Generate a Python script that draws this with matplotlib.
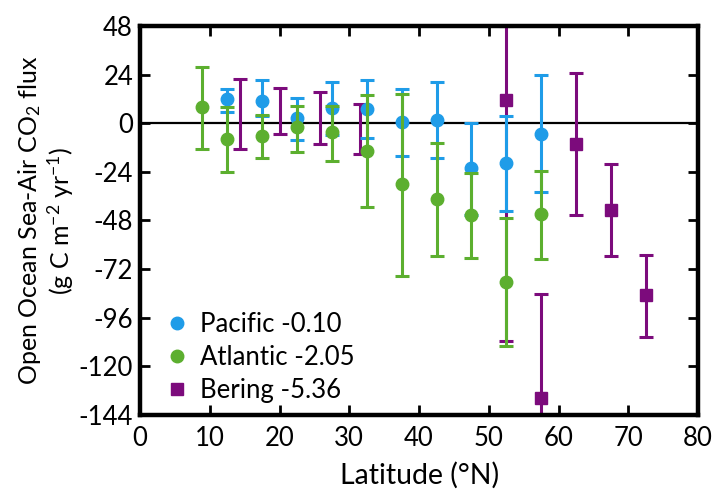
import matplotlib
matplotlib.use("Agg")
import matplotlib.pyplot as plt
import numpy as np
from matplotlib.lines import Line2D

plt.rcParams['font.family'] = ['Lato', 'DejaVu Sans']
plt.rcParams['mathtext.fontset'] = 'custom'
plt.rcParams['mathtext.rm'] = 'Lato'
plt.rcParams['mathtext.it'] = 'Lato'
plt.rcParams['axes.unicode_minus'] = False

# Pacific
pac_lat = [12.5, 17.5, 22.5, 27.5, 32.5, 37.5, 42.5, 47.5, 52.5, 57.5]
pac_val = [11.9, 11.0, 2.4, 7.3, 7.0, 0.4, 1.7, -22.0, -19.7, -5.3]
pac_hi = [16.8, 21.2, 12.5, 20.3, 21.3, 16.8, 20.3, 0.0, 3.6, 23.8]
pac_lo = [5.6, 3.7, -8.1, -6.0, -7.4, -16.4, -17.2, -45.5, -43.2, -33.9]

# Atlantic
atl_lat = [8.9, 12.5, 17.5, 22.5, 27.5, 32.5, 37.5, 42.5, 47.5, 52.5, 57.5]
atl_val = [7.8, -7.7, -6.1, -2.0, -4.5, -13.5, -30.1, -37.2, -45.3, -78.5, -45.0]
atl_hi = [27.9, 7.8, 4.0, 8.6, 8.6, 13.8, 14.3, -9.9, -24.6, -47.0, -23.6]
atl_lo = [-12.6, -24.0, -17.2, -14.3, -18.4, -41.2, -75.4, -65.6, -66.6, -109.9, -66.9]

# Bering (range-only bars without a central marker at low latitude)
ber_bar_lat = [14.3, 20.1, 25.8, 31.5]
ber_bar_hi = [22.0, 17.6, 15.4, 9.4]
ber_bar_lo = [-12.6, -5.3, -10.2, -15.1]

ber_lat = [52.5, 57.5, 62.5, 67.5, 72.5]
ber_val = [11.4, -135.7, -10.2, -42.9, -84.9]
ber_hi = [48.0, -84.5, 24.9, -20.3, -64.9]
ber_lo = [-107.7, -144.0, -45.3, -65.4, -105.4]

labels = ['Pacific -0.10', 'Atlantic -2.05', 'Bering -5.36']
c_pac = '#1f9ce8'
c_atl = '#5caf2f'
c_ber = '#7c0b7c'

fig = plt.figure(figsize=(7.12, 5.0), dpi=100)
ax = fig.add_axes([0.1966, 0.17, 0.784, 0.778])

ax.axhline(0, color='black', lw=1.6, zorder=1)

ekw = dict(elinewidth=2.2, capsize=4.7, capthick=2.2)

bmid = [(h + l) / 2 for h, l in zip(ber_bar_hi, ber_bar_lo)]
ax.errorbar(ber_bar_lat, bmid,
            yerr=[np.subtract(bmid, ber_bar_lo), np.subtract(ber_bar_hi, bmid)],
            fmt='none', ecolor=c_ber, zorder=2, **ekw)
ax.errorbar(ber_lat, ber_val,
            yerr=[np.subtract(ber_val, ber_lo), np.subtract(ber_hi, ber_val)],
            fmt='s', color=c_ber, ms=8, zorder=2, **ekw)
ax.errorbar(pac_lat, pac_val,
            yerr=[np.subtract(pac_val, pac_lo), np.subtract(pac_hi, pac_val)],
            fmt='o', color=c_pac, ms=9, zorder=3, **ekw)
ax.errorbar(atl_lat, atl_val,
            yerr=[np.subtract(atl_val, atl_lo), np.subtract(atl_hi, atl_val)],
            fmt='o', color=c_atl, ms=9, zorder=4, **ekw)

ax.set_xlim(0, 80)
ax.set_ylim(-144, 48)
ax.set_xticks(np.arange(0, 81, 10))
ax.set_yticks(np.arange(-144, 49, 24))

for s in ax.spines.values():
    s.set_linewidth(3.2)
ax.tick_params(direction='in', length=7, width=2, labelsize=18.5,
               top=True, right=True)
ax.tick_params(axis='x', pad=8)
ax.tick_params(axis='y', pad=5)

ax.set_xlabel('Latitude (°N)', fontsize=20.5, labelpad=8)
ax.set_ylabel('Open Ocean Sea-Air CO$_2$ flux\n(g C m$^{-2}$ yr$^{-1}$)',
              fontsize=18, linespacing=1.1, labelpad=2)

handles = [Line2D([], [], ls='none', marker='o', color=c_pac, ms=9),
           Line2D([], [], ls='none', marker='o', color=c_atl, ms=9),
           Line2D([], [], ls='none', marker='s', color=c_ber, ms=8)]
ax.legend(handles, labels, loc='lower left', frameon=False, fontsize=18.5,
          handletextpad=0.4, handlelength=1.0, labelspacing=0.3,
          borderaxespad=0.0, bbox_to_anchor=(0.025, 0.005))

fig.savefig('out.png', dpi=100)
